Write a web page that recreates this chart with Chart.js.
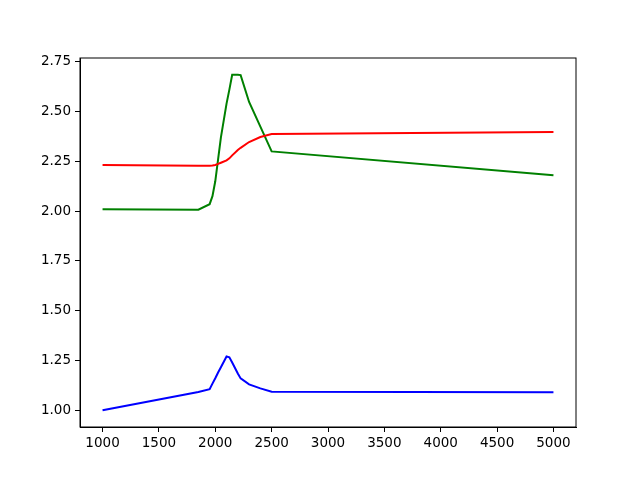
<!DOCTYPE html>
<html>
<head>
<meta charset="utf-8">
<script src="https://cdn.jsdelivr.net/npm/chart.js@4"></script>
<style>
  html, body { margin: 0; padding: 0; background: #fff; }
  #wrap { width: 640px; height: 480px; }
</style>
</head>
<body>
<div id="wrap"><canvas id="chart" width="640" height="480"></canvas></div>
<script>
// x positions shared by all three lines
const xValues = [1000, 1850, 1950, 1975, 2000, 2025, 2050, 2100, 2125, 2150, 2200, 2225, 2300, 2400, 2500, 5000];

const redValues   = [2.232, 2.228, 2.228, 2.229, 2.232, 2.237, 2.243, 2.255, 2.265, 2.280, 2.307, 2.318, 2.347, 2.372, 2.387, 2.398];
const greenValues = [2.010, 2.007, 2.035, 2.075, 2.150, 2.260, 2.370, 2.540, 2.610, 2.685, 2.685, 2.683, 2.548, 2.424, 2.300, 2.180];
const blueValues  = [1.000, 1.092, 1.106, 1.134, 1.161, 1.190, 1.216, 1.270, 1.266, 1.240, 1.185, 1.160, 1.130, 1.110, 1.093, 1.090];

const xTicks = [1000, 1500, 2000, 2500, 3000, 3500, 4000, 4500, 5000];
const yTicks = [1.00, 1.25, 1.50, 1.75, 2.00, 2.25, 2.50, 2.75];

function points(ys) {
    return xValues.map((x, i) => ({ x: x, y: ys[i] }));
}

function line(ys, color) {
    return {
        data: points(ys),
        borderColor: color,
        backgroundColor: color,
        borderWidth: 2,
        pointRadius: 0,
        tension: 0,
        fill: false
    };
}

// draw the full box round the plot, like matplotlib
const frame = {
    id: 'frame',
    afterDraw(chart) {
        const a = chart.chartArea;
        const c = chart.ctx;
        c.save();
        c.strokeStyle = '#000';
        c.lineWidth = 1;
        c.strokeRect(a.left, a.top, a.right - a.left, a.bottom - a.top);
        c.restore();
    }
};

const font = { family: 'DejaVu Sans', size: 13.5 };

new Chart(document.getElementById('chart').getContext('2d'), {
    type: 'line',
    data: {
        datasets: [
            line(redValues, '#ff0000'),
            line(greenValues, '#008000'),
            line(blueValues, '#0000ff')
        ]
    },
    options: {
        responsive: false,
        animation: false,
        layout: { padding: { left: 0, top: 58, right: 64, bottom: 0 } },
        plugins: { legend: { display: false }, tooltip: { enabled: false } },
        scales: {
            x: {
                type: 'linear',
                min: 800,
                max: 5200,
                afterBuildTicks: s => { s.ticks = xTicks.map(v => ({ value: v })); },
                afterFit: s => { s.height = 53; },
                grid: { display: true, drawOnChartArea: false, drawTicks: true, tickLength: 5, color: '#000' },
                border: { display: true, color: '#000', width: 1 },
                ticks: { color: '#000', font: font, padding: 3, maxRotation: 0, callback: v => String(v) }
            },
            y: {
                type: 'linear',
                min: 0.916,
                max: 2.769,
                afterBuildTicks: s => { s.ticks = yTicks.map(v => ({ value: v })); },
                afterFit: s => { s.width = 80; },
                grid: { display: true, drawOnChartArea: false, drawTicks: true, tickLength: 5, color: '#000' },
                border: { display: true, color: '#000', width: 1 },
                ticks: { color: '#000', font: font, padding: 4, callback: v => v.toFixed(2) }
            }
        }
    },
    plugins: [frame]
});
</script>
</body>
</html>
